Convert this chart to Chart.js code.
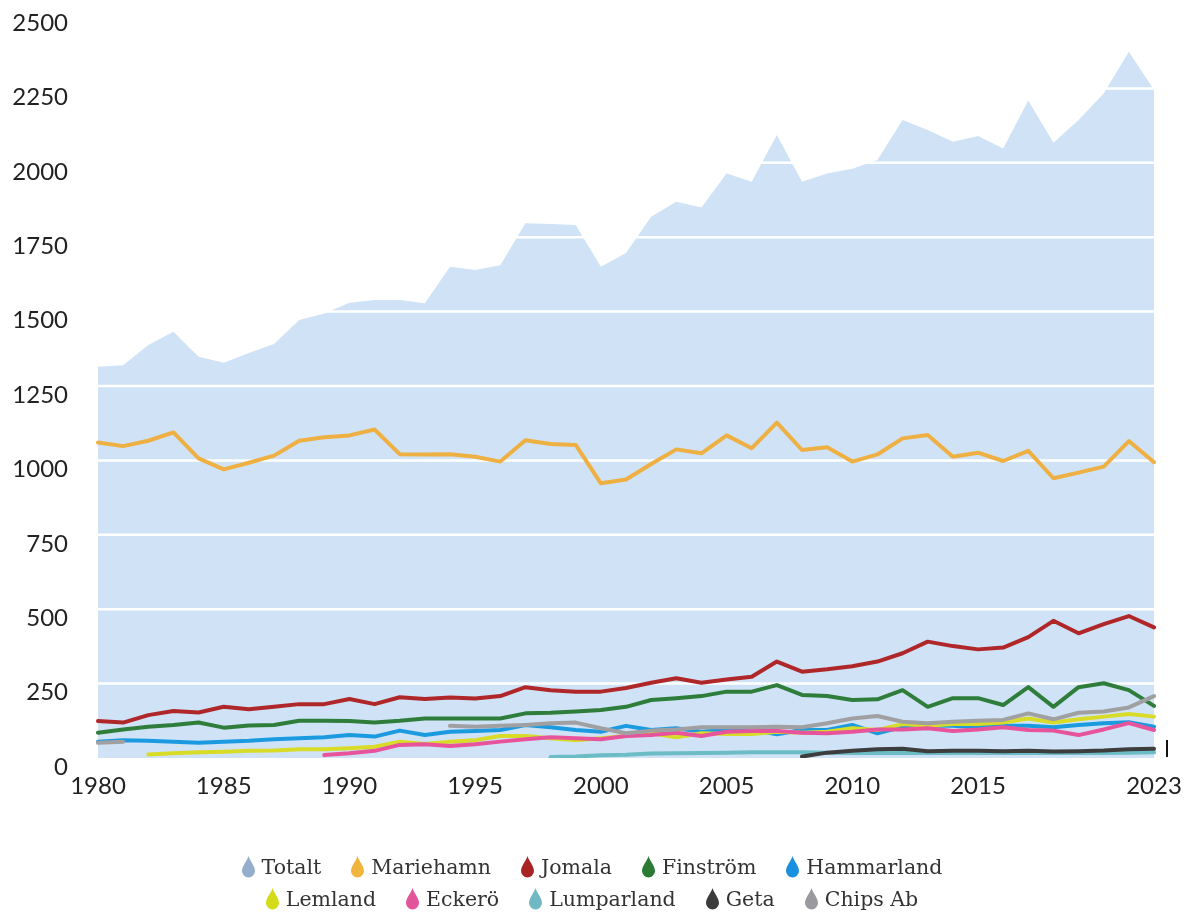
<!DOCTYPE html>
<html>
<head>
<meta charset="utf-8">
<script src="https://cdn.jsdelivr.net/npm/chart.js@4.4.1/dist/chart.umd.min.js"></script>
<style>
  body { margin: 0; background: #fff; }
  #wrap { position: relative; width: 1184px; height: 913px; }
  #legend {
    position: absolute; left: 0; top: 851px; width: 1184px;
    font-family: "DejaVu Serif", serif; font-size: 20.5px; color: #333;
  }
  .row { display: flex; justify-content: center; gap: 30px; height: 32px; align-items: center; }
  .item { display: flex; align-items: center; gap: 7px; }
  .item svg { display: block; }
  #endmark { position: absolute; left: 1166px; top: 740px; width: 2px; height: 17px; background: #111; }
</style>
</head>
<body>
<div id="wrap">
  <canvas id="chart"></canvas>
  <div id="endmark"></div>
  <div id="legend"></div>
</div>
<script>
// x categories (43 points, labelled every 5th, last one 2023)
const xLabels = ['1980','','','','','1985','','','','','1990','','','','','1995','','','','',
  '2000','','','','','2005','','','','','2010','','','','','2015','','','','','','','2023'];
const yTicks = [0, 250, 500, 750, 1000, 1250, 1500, 1750, 2000, 2250, 2500];

const totalt = [1315,1320,1388,1432,1348,1328,1361,1391,1472,1494,1530,1539,1539,1528,1651,1640,
  1656,1797,1794,1791,1651,1697,1819,1869,1850,1964,1936,2093,1936,1964,1980,
  2009,2144,2110,2071,2090,2048,2209,2067,2144,2233,2373,2245];
const mariehamn = [1060,1048,1066,1094,1007,970,992,1016,1066,1078,1084,1104,1021,1020,1021,1012,
  996,1068,1055,1052,923,936,988,1037,1024,1084,1041,1127,1035,1044,996,
  1020,1074,1085,1012,1026,998,1032,940,959,979,1065,994];
const jomala = [124,119,144,158,153,172,164,172,181,181,198,181,204,198,203,200,
  208,238,228,223,223,235,253,268,253,264,273,324,290,298,308,
  324,352,391,376,365,371,406,461,419,450,477,439];
const finstrom = [85,96,105,111,119,102,109,111,125,125,124,119,125,133,133,133,
  133,150,152,156,161,172,195,201,208,223,223,245,212,208,195,
  197,228,172,201,201,178,238,172,238,251,228,175];
const hammarland = [55,60,58,55,51,55,58,63,66,70,77,72,92,77,88,91,
  94,111,103,94,88,108,94,100,88,94,96,80,94,94,111,
  83,105,108,108,103,108,108,103,111,117,120,105];
const lemland = [null,null,12,16,19,21,24,25,29,29,33,38,55,47,55,60,
  74,74,66,60,66,74,83,70,83,81,81,88,85,88,100,
  94,114,108,114,114,119,133,119,130,139,148,139];
const eckero = [null,null,null,null,null,null,null,null,null,10,16,24,44,46,40,46,
  55,63,70,66,63,74,77,85,74,88,91,91,85,83,88,
  96,96,100,91,96,103,94,92,77,96,117,94];
const lumparland = [null,null,null,null,null,null,null,null,null,null,null,null,null,null,null,null,
  null,null,3,5,9,11,15,16,17,18,19,19,19,18,17,
  17,17,17,17,17,17,17,17,17,17,18,19];
const geta = [null,null,null,null,null,null,null,null,null,null,null,null,null,null,null,null,
  null,null,null,null,null,null,null,null,null,null,null,null,5,18,24,
  29,31,23,24,24,23,24,22,23,25,29,31];
const chipsAb = [51,55,null,null,null,null,null,null,null,null,null,null,null,null,108,105,
  108,111,117,119,100,83,92,96,103,103,103,105,103,117,133,
  141,122,117,122,125,128,150,130,152,156,170,208];

const seriesNames = ['Totalt','Mariehamn','Jomala','Finström','Hammarland',
  'Lemland','Eckerö','Lumparland','Geta','Chips Ab'];
const seriesData = [totalt, mariehamn, jomala, finstrom, hammarland,
  lemland, eckero, lumparland, geta, chipsAb];
const lineColors = ['#cfe2f6','#efb043','#b0272a','#2f7d3b','#1b9ae0',
  '#d8dc28','#e8549b','#6cbcc6','#3d3d3d','#a0a0a2'];
const legendColors = ['#93aecb','#f0b53c','#a82424','#2b7a35','#1a8fe0',
  '#d4dc1a','#e2559a','#6fb8c4','#3c3c3c','#9a9a9e'];

// white grid lines painted over the area but under the lines
const gridOnTop = {
  id: 'gridOnTop',
  afterDatasetDraw(chart, args) {
    if (args.index !== 0) return;
    const { ctx, chartArea, scales: { y } } = chart;
    ctx.save();
    ctx.strokeStyle = '#ffffff';
    ctx.lineWidth = 2.5;
    yTicks.forEach(v => {
      if (v === 0 || v === 2500) return;
      const py = y.getPixelForValue(v);
      ctx.beginPath();
      ctx.moveTo(chartArea.left, py);
      ctx.lineTo(chartArea.right, py);
      ctx.stroke();
    });
    ctx.restore();
  }
};

const datasets = seriesData.map((data, i) => {
  if (i === 0) {
    return {
      label: seriesNames[i], data: data,
      fill: 'origin', backgroundColor: lineColors[i], borderColor: lineColors[i],
      borderWidth: 0, pointRadius: 0, tension: 0, order: 20
    };
  }
  return {
    label: seriesNames[i], data: data, fill: false,
    borderColor: lineColors[i], backgroundColor: lineColors[i],
    borderWidth: 4, pointRadius: 0, tension: 0,
    borderCapStyle: 'round', borderJoinStyle: 'round',
    spanGaps: false, order: 10 - i
  };
});

new Chart(document.getElementById('chart'), {
  type: 'line',
  data: { labels: xLabels, datasets: datasets },
  options: {
    responsive: true,
    maintainAspectRatio: false,
    animation: false,
    layout: { padding: { left: 0, right: 30, top: 14, bottom: 0 } },
    plugins: { legend: { display: false }, tooltip: { enabled: false } },
    scales: {
      x: {
        grid: { display: false, drawTicks: false },
        border: { display: false },
        ticks: {
          autoSkip: false, maxRotation: 0, padding: 14,
          color: '#222', font: { family: 'Lato', size: 24 }
        },
        afterFit: s => { s.paddingLeft = 0; s.paddingRight = 0; s.height = 155; }
      },
      y: {
        min: 0, max: 2500,
        grid: { display: false, drawTicks: false },
        border: { display: false },
        afterBuildTicks: s => { s.ticks = yTicks.map(v => ({ value: v })); },
        ticks: {
          padding: 30, labelOffset: 9,
          color: '#222', font: { family: 'Lato', size: 24 },
          callback: v => String(v)
        },
        afterFit: s => { s.width = 98; s.paddingTop = 0; s.paddingBottom = 0; }
      }
    }
  },
  plugins: [gridOnTop]
});

// html legend, two rows of five
function dropIcon(color) {
  return '<svg width="13" height="22" viewBox="0 0 13 22"><path d="M6.5 0 C5 5 0 10 0 15 A6.5 6.5 0 0 0 13 15 C13 10 8 5 6.5 0 Z" fill="' + color + '"/></svg>';
}
const legend = document.getElementById('legend');
[[0, 5], [5, 10]].forEach(([a, b]) => {
  const row = document.createElement('div');
  row.className = 'row';
  for (let i = a; i < b; i++) {
    row.innerHTML += '<div class="item">' + dropIcon(legendColors[i]) + '<span>' + seriesNames[i] + '</span></div>';
  }
  legend.appendChild(row);
});
</script>
</body>
</html>
